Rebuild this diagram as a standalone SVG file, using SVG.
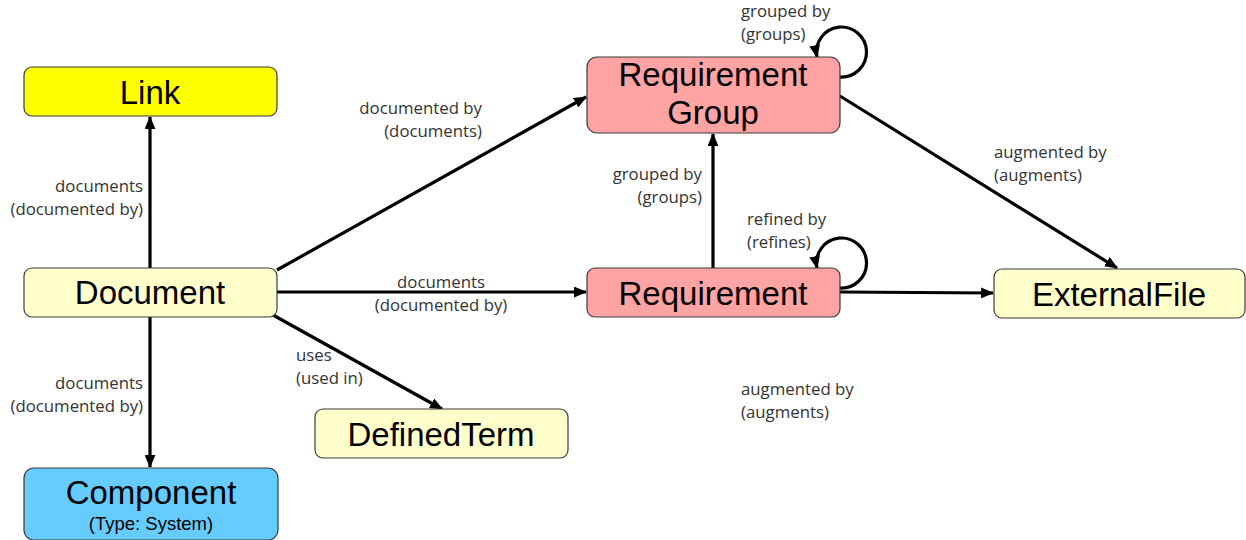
<svg xmlns="http://www.w3.org/2000/svg" width="1246" height="540" viewBox="0 0 1246 540">
<style>
.node rect{stroke:#3a3a3a;stroke-width:1.2}
.nt{font-family:"Liberation Sans",Arial,sans-serif;font-size:33px;fill:#000;text-anchor:middle}
.st{font-family:"Liberation Sans",Arial,sans-serif;font-size:18.5px;fill:#000;text-anchor:middle}
.lb{font-family:"Open Sans","Noto Sans",sans-serif;font-size:16.8px;fill:#333}
.r{text-anchor:end}
.m{text-anchor:middle}
#edges path,#edges line{stroke:#000;stroke-width:3.2;fill:none}
</style>
<defs>
<marker id="ah" viewBox="0 0 12 10" refX="11" refY="5" markerWidth="13" markerHeight="11" markerUnits="userSpaceOnUse" orient="auto">
<path d="M0,0 L12,5 L0,10 Z" fill="#000"/>
</marker>
</defs>
<g id="edges">
<line x1="150" y1="268" x2="150" y2="117" marker-end="url(#ah)"/>
<line x1="150" y1="317" x2="150" y2="467" marker-end="url(#ah)"/>
<line x1="277" y1="270" x2="586" y2="97" marker-end="url(#ah)"/>
<line x1="277" y1="292" x2="586" y2="292" marker-end="url(#ah)"/>
<line x1="273" y1="315" x2="442" y2="409" marker-end="url(#ah)"/>
<line x1="713" y1="268" x2="713" y2="134" marker-end="url(#ah)"/>
<line x1="840" y1="96" x2="1117" y2="268" marker-end="url(#ah)"/>
<line x1="840" y1="292" x2="993" y2="293" marker-end="url(#ah)"/>
<path d="M840,77 A25,25 0 1 0 817,57" marker-end="url(#ah)"/>
<path d="M840,288 A25,25 0 1 0 817,268" marker-end="url(#ah)"/>
</g>
<g id="labels">
<text class="lb r" x="143" y="192">documents</text>
<text class="lb r" x="143" y="215">(documented by)</text>
<text class="lb r" x="143" y="389">documents</text>
<text class="lb r" x="143" y="412">(documented by)</text>
<text class="lb r" x="482" y="114">documented by</text>
<text class="lb r" x="482" y="137">(documents)</text>
<text class="lb m" x="441" y="288">documents</text>
<text class="lb m" x="441" y="311">(documented by)</text>
<text class="lb" x="296" y="361">uses</text>
<text class="lb" x="296" y="384">(used in)</text>
<text class="lb" x="741" y="395">augmented by</text>
<text class="lb" x="741" y="418">(augments)</text>
<text class="lb" x="741" y="17">grouped by</text>
<text class="lb" x="741" y="40">(groups)</text>
<text class="lb r" x="702" y="180">grouped by</text>
<text class="lb r" x="702" y="203">(groups)</text>
<text class="lb" x="747" y="225">refined by</text>
<text class="lb" x="747" y="248">(refines)</text>
<text class="lb" x="994" y="158">augmented by</text>
<text class="lb" x="994" y="181">(augments)</text>
</g>
<g id="link" class="node"><rect x="24" y="67" width="253" height="49" rx="8" fill="#FFFF00"/><text class="nt" x="150" y="104">Link</text></g>
<g id="document" class="node"><rect x="24" y="268" width="253" height="49" rx="8" fill="#FFFFCC"/><text class="nt" x="150" y="304">Document</text></g>
<g id="component" class="node"><rect x="24" y="468" width="254" height="72" rx="10" fill="#66CCFF"/><text class="nt" x="151" y="504">Component</text><text class="st" x="151" y="530">(Type: System)</text></g>
<g id="definedterm" class="node"><rect x="315" y="409" width="253" height="49" rx="8" fill="#FFFFCC"/><text class="nt" x="441" y="446">DefinedTerm</text></g>
<g id="requirementgroup" class="node"><rect x="587" y="57" width="253" height="76" rx="10" fill="#FFA3A3"/><text class="nt" x="713" y="86">Requirement</text><text class="nt" x="713" y="124">Group</text></g>
<g id="requirement" class="node"><rect x="587" y="268" width="253" height="49" rx="8" fill="#FFA3A3"/><text class="nt" x="713" y="305">Requirement</text></g>
<g id="externalfile" class="node"><rect x="994" y="269" width="251" height="49" rx="8" fill="#FFFFCC"/><text class="nt" x="1119" y="306">ExternalFile</text></g>
</svg>
